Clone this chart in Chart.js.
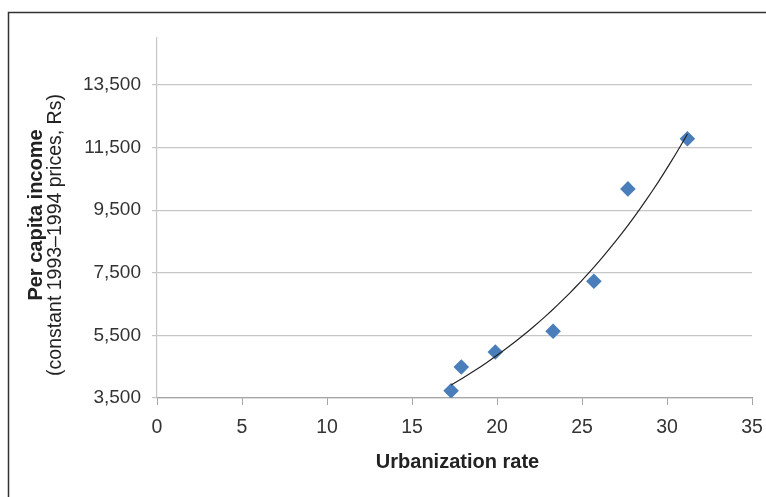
<!DOCTYPE html>
<html>
<head>
<meta charset="utf-8">
<script src="https://cdn.jsdelivr.net/npm/chart.js@4.4.1/dist/chart.umd.min.js"></script>
<style>
    html, body { margin: 0; padding: 0; background: #ffffff; }
    #wrap { width: 766px; height: 497px; }
</style>
</head>
<body>
<div id="wrap"><canvas id="myChart" width="766" height="497"></canvas></div>
<script>
    const urbanization = [17.3, 17.9, 19.9, 23.3, 25.7, 27.7, 31.2];
    const income = [3730, 4490, 4970, 5630, 7230, 10180, 11780];
    const yTicks = [3500, 5500, 7500, 9500, 11500, 13500];
    const xTitle = 'Urbanization rate';
    const yTitle = 'Per capita income';
    const ySubTitle = '(constant 1993\u20131994 prices, Rs)';

    const FONT = '"Liberation Sans", Arial, sans-serif';

    // exponential trendline, least squares on ln(y) like Excel does
    function expFit(xs, ys) {
        const n = xs.length;
        const lys = ys.map(v => Math.log(v));
        const mx = xs.reduce((a, b) => a + b, 0) / n;
        const my = lys.reduce((a, b) => a + b, 0) / n;
        let sxy = 0, sxx = 0;
        for (let i = 0; i < n; i++) {
            sxy += (xs[i] - mx) * (lys[i] - my);
            sxx += (xs[i] - mx) * (xs[i] - mx);
        }
        const b = sxy / sxx;
        const a = Math.exp(my - b * mx);
        return x => a * Math.exp(b * x);
    }

    const fit = expFit(urbanization, income);
    const xMin = Math.min(...urbanization);
    const xMax = Math.max(...urbanization);
    const trend = [];
    for (let i = 0; i <= 40; i++) {
        const x = xMin + (xMax - xMin) * i / 40;
        trend.push({x: x, y: fit(x)});
    }

    const points = urbanization.map((x, i) => ({x: x, y: income[i]}));

    const titlesPlugin = {
        id: 'titles',
        beforeDraw(chart) {
            const ctx = chart.ctx;
            ctx.save();
            ctx.fillStyle = '#ffffff';
            ctx.fillRect(0, 0, chart.width, chart.height);
            ctx.strokeStyle = '#333333';
            ctx.lineWidth = 1.5;
            ctx.beginPath();
            ctx.moveTo(8.5, chart.height + 5);
            ctx.lineTo(8.5, 12.5);
            ctx.lineTo(chart.width + 5, 12.5);
            ctx.stroke();
            ctx.restore();
        },
        afterDraw(chart) {
            const ctx = chart.ctx;
            const area = chart.chartArea;
            ctx.save();
            ctx.fillStyle = '#222222';
            ctx.textAlign = 'center';
            ctx.textBaseline = 'middle';
            ctx.font = 'bold 20px ' + FONT;
            ctx.fillText(xTitle, (area.left + area.right) / 2 + 3, 462);

            ctx.translate(36, 215);
            ctx.rotate(-Math.PI / 2);
            ctx.fillText(yTitle, 0, 0);
            ctx.restore();

            ctx.save();
            ctx.fillStyle = '#222222';
            ctx.textAlign = 'center';
            ctx.textBaseline = 'middle';
            ctx.font = '19.5px ' + FONT;
            ctx.translate(56, 235);
            ctx.rotate(-Math.PI / 2);
            ctx.fillText(ySubTitle, 0, 0);
            ctx.restore();
        }
    };

    new Chart(document.getElementById('myChart'), {
        type: 'scatter',
        data: {
            datasets: [
                {
                    label: 'Per capita income',
                    data: points,
                    pointStyle: 'rectRot',
                    pointRadius: 7.8,
                    pointHoverRadius: 7.8,
                    backgroundColor: '#4a7ebb',
                    borderColor: '#4a7ebb',
                    borderWidth: 0,
                    order: 2
                },
                {
                    type: 'line',
                    label: 'Trend',
                    data: trend,
                    borderColor: '#222222',
                    borderWidth: 1.2,
                    pointRadius: 0,
                    fill: false,
                    tension: 0,
                    order: 1
                }
            ]
        },
        options: {
            responsive: false,
            animation: false,
            devicePixelRatio: 1,
            layout: {
                padding: {top: 38, right: 14, bottom: 0, left: 0}
            },
            plugins: {
                legend: {display: false},
                tooltip: {enabled: false}
            },
            scales: {
                x: {
                    type: 'linear',
                    min: 0,
                    max: 35,
                    ticks: {
                        stepSize: 5,
                        padding: 11,
                        color: '#333333',
                        font: {family: FONT, size: 19.5}
                    },
                    grid: {
                        drawOnChartArea: false,
                        drawTicks: true,
                        tickLength: 7,
                        color: '#a6a6a6'
                    },
                    border: {color: '#a6a6a6', width: 1.2},
                    afterFit(scale) {
                        scale.height = 99;
                        scale.paddingRight = 0;
                        scale.paddingLeft = 0;
                    }
                },
                y: {
                    type: 'linear',
                    min: 3500,
                    max: 15000,
                    afterBuildTicks(scale) {
                        scale.ticks = yTicks.map(v => ({value: v}));
                    },
                    ticks: {
                        padding: 11,
                        color: '#333333',
                        font: {family: FONT, size: 19},
                        callback: v => v.toLocaleString('en-US')
                    },
                    grid: {
                        color: '#c6c6c6',
                        tickLength: 5,
                        lineWidth: 1.2
                    },
                    border: {color: '#c6c6c6', width: 1.2},
                    afterFit(scale) {
                        scale.width = 157;
                        scale.paddingTop = 0;
                        scale.paddingBottom = 0;
                    }
                }
            }
        },
        plugins: [titlesPlugin]
    });
</script>
</body>
</html>
